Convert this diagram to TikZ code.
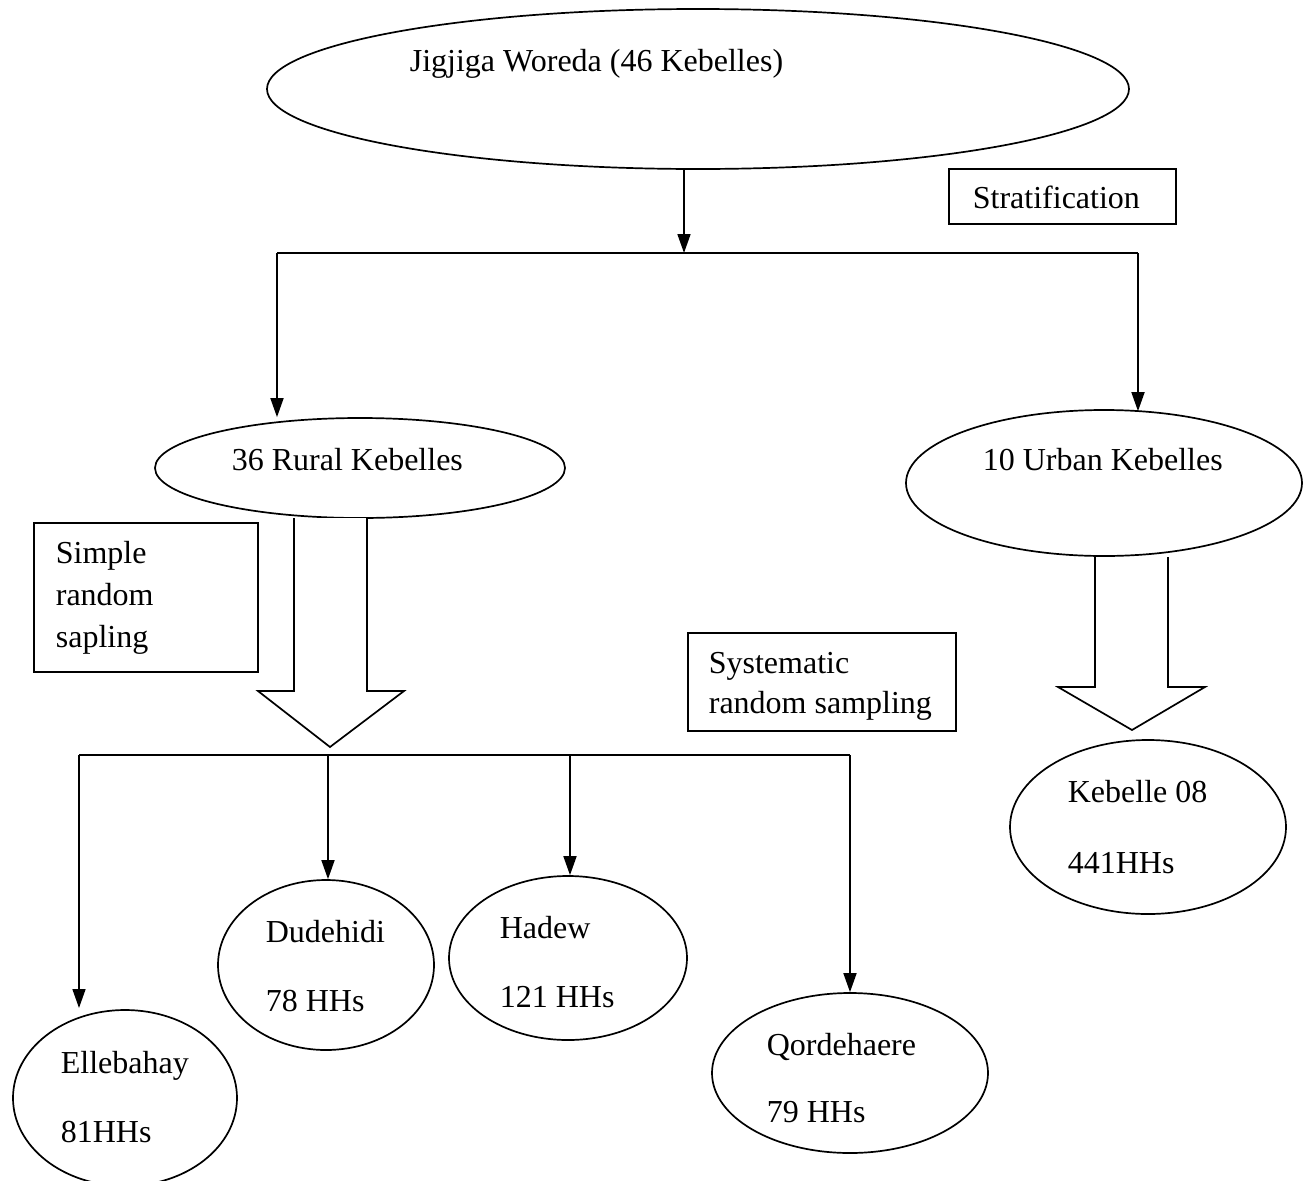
\documentclass[tikz,border=0pt]{standalone}
\usepackage{fontspec}
\setmainfont{Liberation Serif}
\usetikzlibrary{shapes.geometric,arrows.meta}
\begin{document}
\begin{tikzpicture}[x=1pt,y=-1pt,
  line width=1.7pt,
  ell/.style={draw,ellipse,inner sep=0pt},
  txt/.style={anchor=base west,inner sep=0pt,font=\fontsize{32}{40}\selectfont},
  lbox/.style={draw,inner sep=0pt},
  arr/.style={-{Triangle[width=13pt,length=19pt]}},
  blk/.style={draw,fill=white,line join=miter}]
\useasboundingbox (0,0) rectangle (1307,1181);
% ellipses
\node[ell,minimum width=862pt,minimum height=160pt] (top) at (698,89) {};
\node[ell,minimum width=410pt,minimum height=100pt] (rural) at (360,468) {};
\node[ell,minimum width=396pt,minimum height=146pt] (urban) at (1104,483) {};
\node[ell,minimum width=276pt,minimum height=174pt] (keb) at (1148,827) {};
\node[ell,minimum width=216pt,minimum height=170pt] (dud) at (326,965) {};
\node[ell,minimum width=238pt,minimum height=164pt] (had) at (568,958) {};
\node[ell,minimum width=224pt,minimum height=176pt] (ell) at (125,1098) {};
\node[ell,minimum width=276pt,minimum height=160pt] (qor) at (850,1073) {};
% boxes
\node[lbox,minimum width=227pt,minimum height=55pt] (strat) at (1062.5,196.5) {};
\node[lbox,minimum width=224pt,minimum height=149pt] (simple) at (146,597.5) {};
\node[lbox,minimum width=268pt,minimum height=98pt] (syst) at (822,682) {};
% texts
\node[txt] (t1) at (409,71) {Jigjiga Woreda (46 Kebelles)};
\node[txt] (t2) at (972,208) {Stratification};
\node[txt] (t3) at (231,470) {36 Rural Kebelles};
\node[txt] (t4) at (982,470) {10 Urban Kebelles};
\node[txt] (t5) at (55,563) {Simple};
\node[txt] (t6) at (55,605) {random};
\node[txt] (t7) at (55,647) {sapling};
\node[txt] (t8) at (708,673) {Systematic};
\node[txt] (t9) at (708,713) {random sampling};
\node[txt] (t10) at (1067,802) {Kebelle 08};
\node[txt] (t11) at (1067,873) {441HHs};
\node[txt] (t12) at (265,942) {Dudehidi};
\node[txt] (t13) at (265,1011) {78 HHs};
\node[txt] (t14) at (499,938) {Hadew};
\node[txt] (t15) at (499,1007) {121 HHs};
\node[txt] (t16) at (60,1073) {Ellebahay};
\node[txt] (t17) at (60,1142) {81HHs};
\node[txt] (t18) at (766,1055) {Qordehaere};
\node[txt] (t19) at (766,1122) {79 HHs};
% top connectors
\coordinate (m) at (684,253);
\coordinate (hl) at (277,253);
\coordinate (hr) at (1138,253);
\draw[arr] (top.south -| m) -- (m);
\draw (hl) -- (hr);
\draw[arr] (hl) -- (hl |- rural.north);
\draw[arr] (hr) -- ([yshift=-2pt]hr |- urban.north);
% block arrows
\draw[blk] (294,518) -- (294,691) -- (258,691) -- (330,747) -- (404,691) -- (367,691) -- (367,518);
\draw[blk] (1095,557) -- (1095,687) -- (1058,687) -- (1132,730) -- (1205,687) -- (1168,687) -- (1168,557);
% bottom connectors
\coordinate (bl) at (79,755);
\coordinate (b2) at (328,755);
\coordinate (b3) at (570,755);
\coordinate (br) at (850,755);
\draw (bl) -- (br);
\draw[arr] (bl) -- (79,1008);
\draw[arr] (b2) -- (b2 |- dud.north);
\draw[arr] (b3) -- (b3 |- had.north);
\draw[arr] (br) -- (br |- qor.north);
\end{tikzpicture}
\end{document}
